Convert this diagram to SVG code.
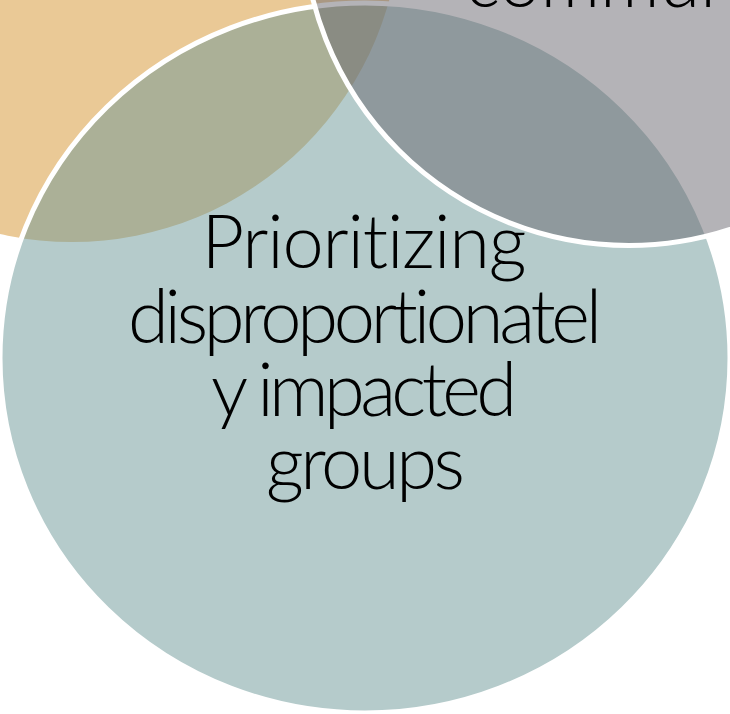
<svg xmlns="http://www.w3.org/2000/svg" width="730" height="714" viewBox="0 0 730 714">
  <style>
    .lbl { font-family: 'Lato Light', Lato, 'Open Sans', 'Liberation Sans', sans-serif; font-weight: 300; font-size: 74px; fill: #000000; font-variant-ligatures: none; font-feature-settings: "liga" 0, "dlig" 0, "clig" 0; }
    .ring { stroke: #ffffff; stroke-width: 5; }
  </style>
  <rect x="0" y="0" width="730" height="714" fill="#ffffff"/>
  <g id="node-orange">
    <circle cx="72" cy="-87" r="329" fill="#EAC996"/>
  </g>
  <g id="node-blue">
    <ellipse class="ring" cx="365" cy="358" rx="365" ry="355" fill="#6B9797" fill-opacity="0.5"/>
  </g>
  <g id="node-gray">
    <circle class="ring" cx="629" cy="-80.5" r="326" fill="#69676F" fill-opacity="0.5"/>
  </g>
  <g id="connectors"></g>
  <g id="labels">
    <text class="lbl" x="465" y="6.5">commun</text>
    <text class="lbl" x="364" y="268" text-anchor="middle" textLength="325">Prioritizing</text>
    <text class="lbl" x="365" y="343" text-anchor="middle" textLength="474">disproportionatel</text>
    <text class="lbl" x="364" y="416" text-anchor="middle" textLength="306">y impacted</text>
    <text class="lbl" x="365.5" y="489" text-anchor="middle" textLength="199">groups</text>
  </g>
</svg>
